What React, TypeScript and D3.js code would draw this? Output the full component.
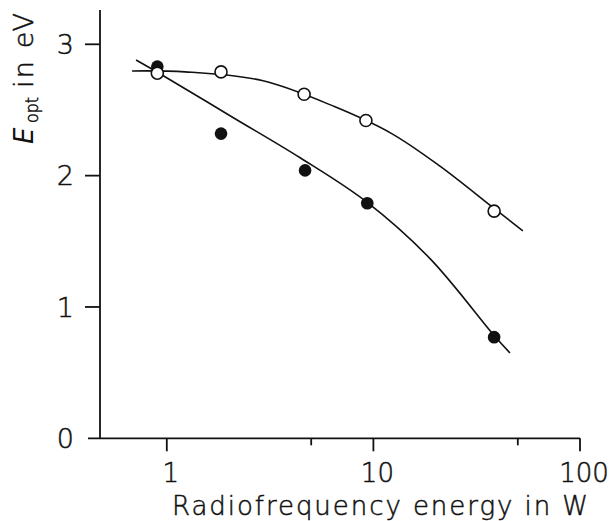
import React from "react";
import * as d3 from "d3";

const W = 610;
const H = 521;

// Data series
const openX = [0.9, 1.83, 4.62, 9.2, 38.4];
const openY = [2.78, 2.79, 2.62, 2.42, 1.73];
const filledX = [0.9, 1.83, 4.67, 9.34, 38.4];
const filledY = [2.83, 2.32, 2.04, 1.79, 0.77];

// Fitted curves
const upperCurveX = [0.679, 1.226, 2.89, 6.52, 12.2, 21.0, 38.4, 52.9];
const upperCurveY = [2.797, 2.79, 2.724, 2.524, 2.322, 2.072, 1.75, 1.58];
const lowerCurveX = [0.71, 0.98, 2.09, 4.42, 9.27, 18.8, 38.4, 45.8];
const lowerCurveY = [2.88, 2.753, 2.443, 2.136, 1.8, 1.368, 0.783, 0.65];

const xMajorTicks = [1, 10, 100];
const xMajorLabels = ["1", "10", "100"];
const xMinorTicks = [5, 50];
const yTicks = [0, 1, 2, 3];
const yTickLabels = ["0", "1", "2", "3"];

export default function App() {
  const x = d3.scaleLog().domain([0.475, 100]).range([100, 580]);
  const y = d3.scaleLinear().domain([0, 3]).range([438.3, 44.3]);
  const y0 = y(0);
  const yTop = 10;

  const line = d3
    .line<[number, number]>()
    .x((d) => x(d[0]))
    .y((d) => y(d[1]))
    .curve(d3.curveCatmullRom.alpha(0.5));

  const upper = upperCurveX.map((v, i) => [v, upperCurveY[i]] as [number, number]);
  const lower = lowerCurveX.map((v, i) => [v, lowerCurveY[i]] as [number, number]);

  const font = "'DejaVu Sans', 'Liberation Sans', sans-serif";
  const fw = 200;
  const ink = "#111";
  const ts = { stroke: ink, strokeWidth: 0.5 };

  return (
    <svg
      width={W}
      height={H}
      style={{ position: "absolute", left: 0, top: 0, background: "#fff" }}
    >
      <rect x={0} y={0} width={W} height={H} fill="#fff" />
      {/* axes */}
      <line x1={x.range()[0]} y1={yTop} x2={x.range()[0]} y2={y0} stroke={ink} strokeWidth={1.8} />
      <line x1={88} y1={y0} x2={x(100)} y2={y0} stroke={ink} strokeWidth={1.8} />
      {/* y ticks */}
      {yTicks.map((t, i) => (
        <g key={"yt" + t}>
          {t > 0 && (
            <line x1={85} x2={x.range()[0]} y1={y(t)} y2={y(t)} stroke={ink} strokeWidth={1.8} />
          )}
          <text
            x={74}
            y={y(t)}
            dy="0.36em"
            textAnchor="end"
            fontFamily={font}
            fontWeight={fw}
            fontSize={27}
            fill={ink}
            {...ts}
          >
            {yTickLabels[i]}
          </text>
        </g>
      ))}
      {/* x ticks */}
      {xMajorTicks.map((t, i) => (
        <g key={"xt" + t}>
          <line x1={x(t)} x2={x(t)} y1={y0} y2={y0 + 13} stroke={ink} strokeWidth={1.8} />
          <text
            x={x(t) + 4}
            y={482}
            textAnchor="middle"
            fontFamily={font}
            fontWeight={fw}
            fontSize={26}
            fill={ink}
            {...ts}
          >
            {xMajorLabels[i]}
          </text>
        </g>
      ))}
      {xMinorTicks.map((t) => (
        <line key={"xm" + t} x1={x(t)} x2={x(t)} y1={y0} y2={y0 + 7} stroke={ink} strokeWidth={1.8} />
      ))}
      {/* axis titles */}
      <text
        x={172}
        y={515}
        fontFamily={font}
        fontWeight={fw}
        fontSize={26}
        fill={ink}
        textLength={416}
        lengthAdjust="spacing"
        {...ts}
      >
        Radiofrequency energy in W
      </text>
      <g transform="translate(33,145) rotate(-90)">
        <text x={1} y={0} fontFamily={font} fontWeight={fw} fontSize={26} fontStyle="italic" fill={ink}>
          E
        </text>
        <text x={22} y={5} fontFamily={font} fontWeight={fw} fontSize={18} fill={ink} textLength={26} lengthAdjust="spacingAndGlyphs" {...ts}>
          opt
        </text>
        <text x={57} y={0} fontFamily={font} fontWeight={fw} fontSize={27} fill={ink} textLength={75} lengthAdjust="spacing" {...ts}>
          in eV
        </text>
      </g>
      {/* curves */}
      <path d={line(upper) || ""} fill="none" stroke={ink} strokeWidth={1.6} />
      <path d={line(lower) || ""} fill="none" stroke={ink} strokeWidth={1.6} />
      {/* filled points */}
      {filledX.map((v, i) => (
        <circle key={"f" + i} cx={x(v)} cy={y(filledY[i])} r={6.3} fill={ink} />
      ))}
      {/* open points */}
      {openX.map((v, i) => (
        <circle
          key={"o" + i}
          cx={x(v)}
          cy={y(openY[i])}
          r={6}
          fill="#fff"
          stroke={ink}
          strokeWidth={1.6}
        />
      ))}
    </svg>
  );
}
